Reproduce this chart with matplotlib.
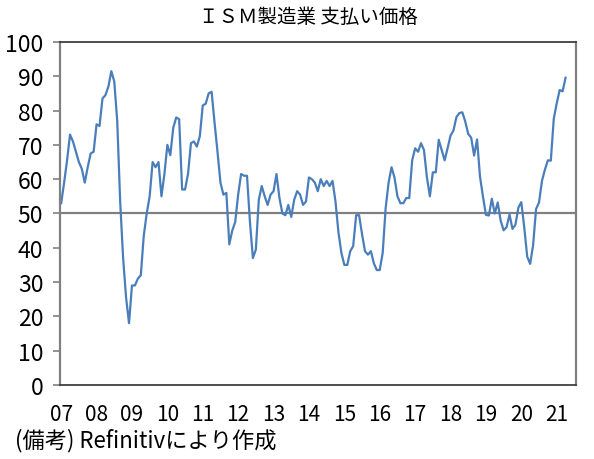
import numpy as np
import matplotlib
matplotlib.use("Agg")
import matplotlib.pyplot as plt

plt.rcParams['font.family'] = ['Noto Sans CJK JP', 'DejaVu Sans']
narrow = ['Liberation Sans Narrow', 'Noto Sans CJK JP', 'DejaVu Sans']

# ISM manufacturing prices paid, monthly Jan 2007 - Apr 2021
prices = [
    53.0, 59.0, 65.5, 73.0, 71.0, 68.0, 65.0, 63.0, 59.0, 63.5, 67.5, 68.0,   # 2007
    76.0, 75.5, 83.5, 84.5, 87.0, 91.5, 88.5, 77.0, 53.5, 37.0, 25.5, 18.0,   # 2008
    29.0, 29.0, 31.0, 32.0, 43.5, 50.0, 55.0, 65.0, 63.5, 65.0, 55.0, 61.5,   # 2009
    70.0, 67.0, 75.0, 78.0, 77.5, 57.0, 57.0, 61.5, 70.5, 71.0, 69.5, 72.5,   # 2010
    81.5, 82.0, 85.0, 85.5, 76.5, 68.0, 59.0, 55.5, 56.0, 41.0, 45.0, 47.5,   # 2011
    55.5, 61.5, 61.0, 61.0, 47.5, 37.0, 39.5, 54.0, 58.0, 55.0, 52.5, 55.5,   # 2012
    56.5, 61.5, 54.5, 50.0, 49.5, 52.5, 49.0, 54.0, 56.5, 55.5, 52.5, 53.5,   # 2013
    60.5, 60.0, 59.0, 56.5, 60.0, 58.0, 59.5, 58.0, 59.5, 53.5, 44.5, 38.5,   # 2014
    35.0, 35.0, 39.0, 40.5, 49.5, 49.5, 44.0, 39.0, 38.0, 39.0, 35.5, 33.5,   # 2015
    33.5, 38.5, 51.5, 59.0, 63.5, 60.5, 55.0, 53.0, 53.0, 54.5, 54.5, 65.5,   # 2016
    69.0, 68.0, 70.5, 68.5, 60.5, 55.0, 62.0, 62.0, 71.5, 68.5, 65.5, 69.0,   # 2017
    72.7, 74.2, 78.1, 79.3, 79.5, 76.8, 73.2, 72.1, 66.9, 71.6, 60.7, 54.9,   # 2018
    49.6, 49.4, 54.3, 50.0, 53.2, 47.9, 45.1, 46.0, 49.7, 45.5, 46.7, 51.7,   # 2019
    53.3, 45.9, 37.4, 35.3, 40.8, 51.3, 53.2, 59.5, 62.8, 65.5, 65.4, 77.6,   # 2020
    82.1, 86.0, 85.6, 89.6,                                                   # 2021
]
year_labels = ["07", "08", "09", "10", "11", "12", "13", "14",
               "15", "16", "17", "18", "19", "20", "21"]
y_ticks = list(range(0, 101, 10))

x = np.arange(len(prices))

fig = plt.figure(figsize=(5.94, 4.60), dpi=100)
ax = fig.add_axes([0.101, 0.161, 0.869, 0.7455])

# 50 line and series
ax.axhline(50, color="#808080", lw=1.6, zorder=1)
ax.plot(x, prices, color="#4A7EBB", lw=1.6, zorder=2)

ax.set_xlim(-0.4, 174.6)
ax.set_ylim(0, 100)
ax.set_yticks(y_ticks)
ax.set_yticklabels([str(v) for v in y_ticks], family=narrow, fontsize=16.5)
ax.set_xticks(np.arange(len(year_labels)) * 12)
ax.set_xticklabels(year_labels, family=narrow, fontsize=15)

ax.tick_params(axis="y", length=5, width=1.2, color="#808080", pad=7)
ax.tick_params(axis="x", length=0, pad=13)

for side in ["top", "bottom"]:
    ax.spines[side].set_color("#404040")
    ax.spines[side].set_linewidth(1.3)
for side in ["left", "right"]:
    ax.spines[side].set_color("#808080")
    ax.spines[side].set_linewidth(1.6)

fig.text(0.52, 0.961, "ＩＳＭ製造業 支払い価格", ha="center", va="center", fontsize=14)
fig.text(0.025, 0.043, "(備考) Refinitivにより作成", ha="left", va="center", fontsize=16)

fig.savefig("out.png", dpi=100)
